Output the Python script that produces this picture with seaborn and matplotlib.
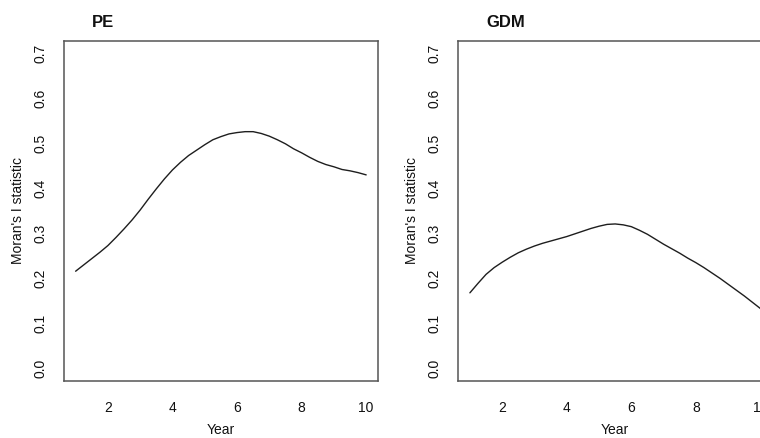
import numpy as np
import pandas as pd
import matplotlib
matplotlib.use('Agg')
import matplotlib.pyplot as plt
import seaborn as sns

# values (quarter-year steps)
years = [1.0, 1.25, 1.5, 1.75, 2.0, 2.25, 2.5, 2.75, 3.0, 3.25,
         3.5, 3.75, 4.0, 4.25, 4.5, 4.75, 5.0, 5.25, 5.5, 5.75,
         6.0, 6.25, 6.5, 6.75, 7.0, 7.25, 7.5, 7.75, 8.0, 8.25,
         8.5, 8.75, 9.0, 9.25, 9.5, 9.75, 10.0]
pe_moran = [0.216, 0.230, 0.244, 0.258, 0.273, 0.291, 0.310, 0.330, 0.352, 0.376,
            0.399, 0.421, 0.441, 0.458, 0.473, 0.485, 0.497, 0.508, 0.515, 0.521,
            0.524, 0.526, 0.526, 0.522, 0.516, 0.508, 0.499, 0.488, 0.479, 0.469,
            0.460, 0.453, 0.448, 0.442, 0.439, 0.435, 0.430]
gdm_moran = [0.168, 0.189, 0.209, 0.224, 0.236, 0.247, 0.257, 0.265, 0.272, 0.278,
             0.283, 0.288, 0.293, 0.299, 0.305, 0.311, 0.316, 0.320, 0.321, 0.319,
             0.315, 0.307, 0.298, 0.287, 0.276, 0.266, 0.256, 0.245, 0.235, 0.224,
             0.212, 0.200, 0.187, 0.174, 0.161, 0.147, 0.133]
panel_titles = ['PE', 'GDM']
y_ticks = [0.0, 0.1, 0.2, 0.3, 0.4, 0.5, 0.6, 0.7]
x_ticks = [2, 4, 6, 8, 10]

sns.set_style('white')
plt.rcParams['font.family'] = ['Liberation Sans', 'DejaVu Sans']

fig = plt.figure(figsize=(7.6, 4.38), dpi=100)
# right panel runs off the edge of the image, as in the reference
ax_pe = fig.add_axes([0.0842, 0.130, 0.4129, 0.777])
ax_gdm = fig.add_axes([0.603, 0.130, 0.4129, 0.777])

df = pd.DataFrame({'Year': years, 'PE': pe_moran, 'GDM': gdm_moran})

for ax, name in zip([ax_pe, ax_gdm], panel_titles):
    sns.lineplot(data=df, x='Year', y=name, ax=ax, color='#1e1e1e', linewidth=1.0)
    ax.set_xlim(0.64, 10.36)
    ax.set_ylim(-0.028, 0.728)
    ax.set_xticks(x_ticks)
    ax.set_yticks(y_ticks)
    ax.set_xticklabels([str(t) for t in x_ticks])
    ax.set_yticklabels(['%.1f' % t for t in y_ticks], rotation=90, va='center')
    ax.tick_params(axis='both', direction='out', length=5, width=0.9,
                   color='#444444', labelsize=10, labelcolor='#111111')
    ax.tick_params(axis='x', pad=9)
    ax.tick_params(axis='y', pad=7)
    ax.set_xlabel('Year', fontsize=10, labelpad=6, color='#111111')
    ax.set_ylabel("Moran's I statistic", fontsize=10, labelpad=6, color='#111111')
    for s in ax.spines.values():
        s.set_visible(True)
        s.set_color('#555555')
        s.set_linewidth(1.1)
    ax.text(0.09, 1.041, name, transform=ax.transAxes, fontsize=12,
            fontweight='bold', ha='left', va='baseline', color='#111111')
    ax.grid(False)

plt.savefig('out.png', dpi=100)
